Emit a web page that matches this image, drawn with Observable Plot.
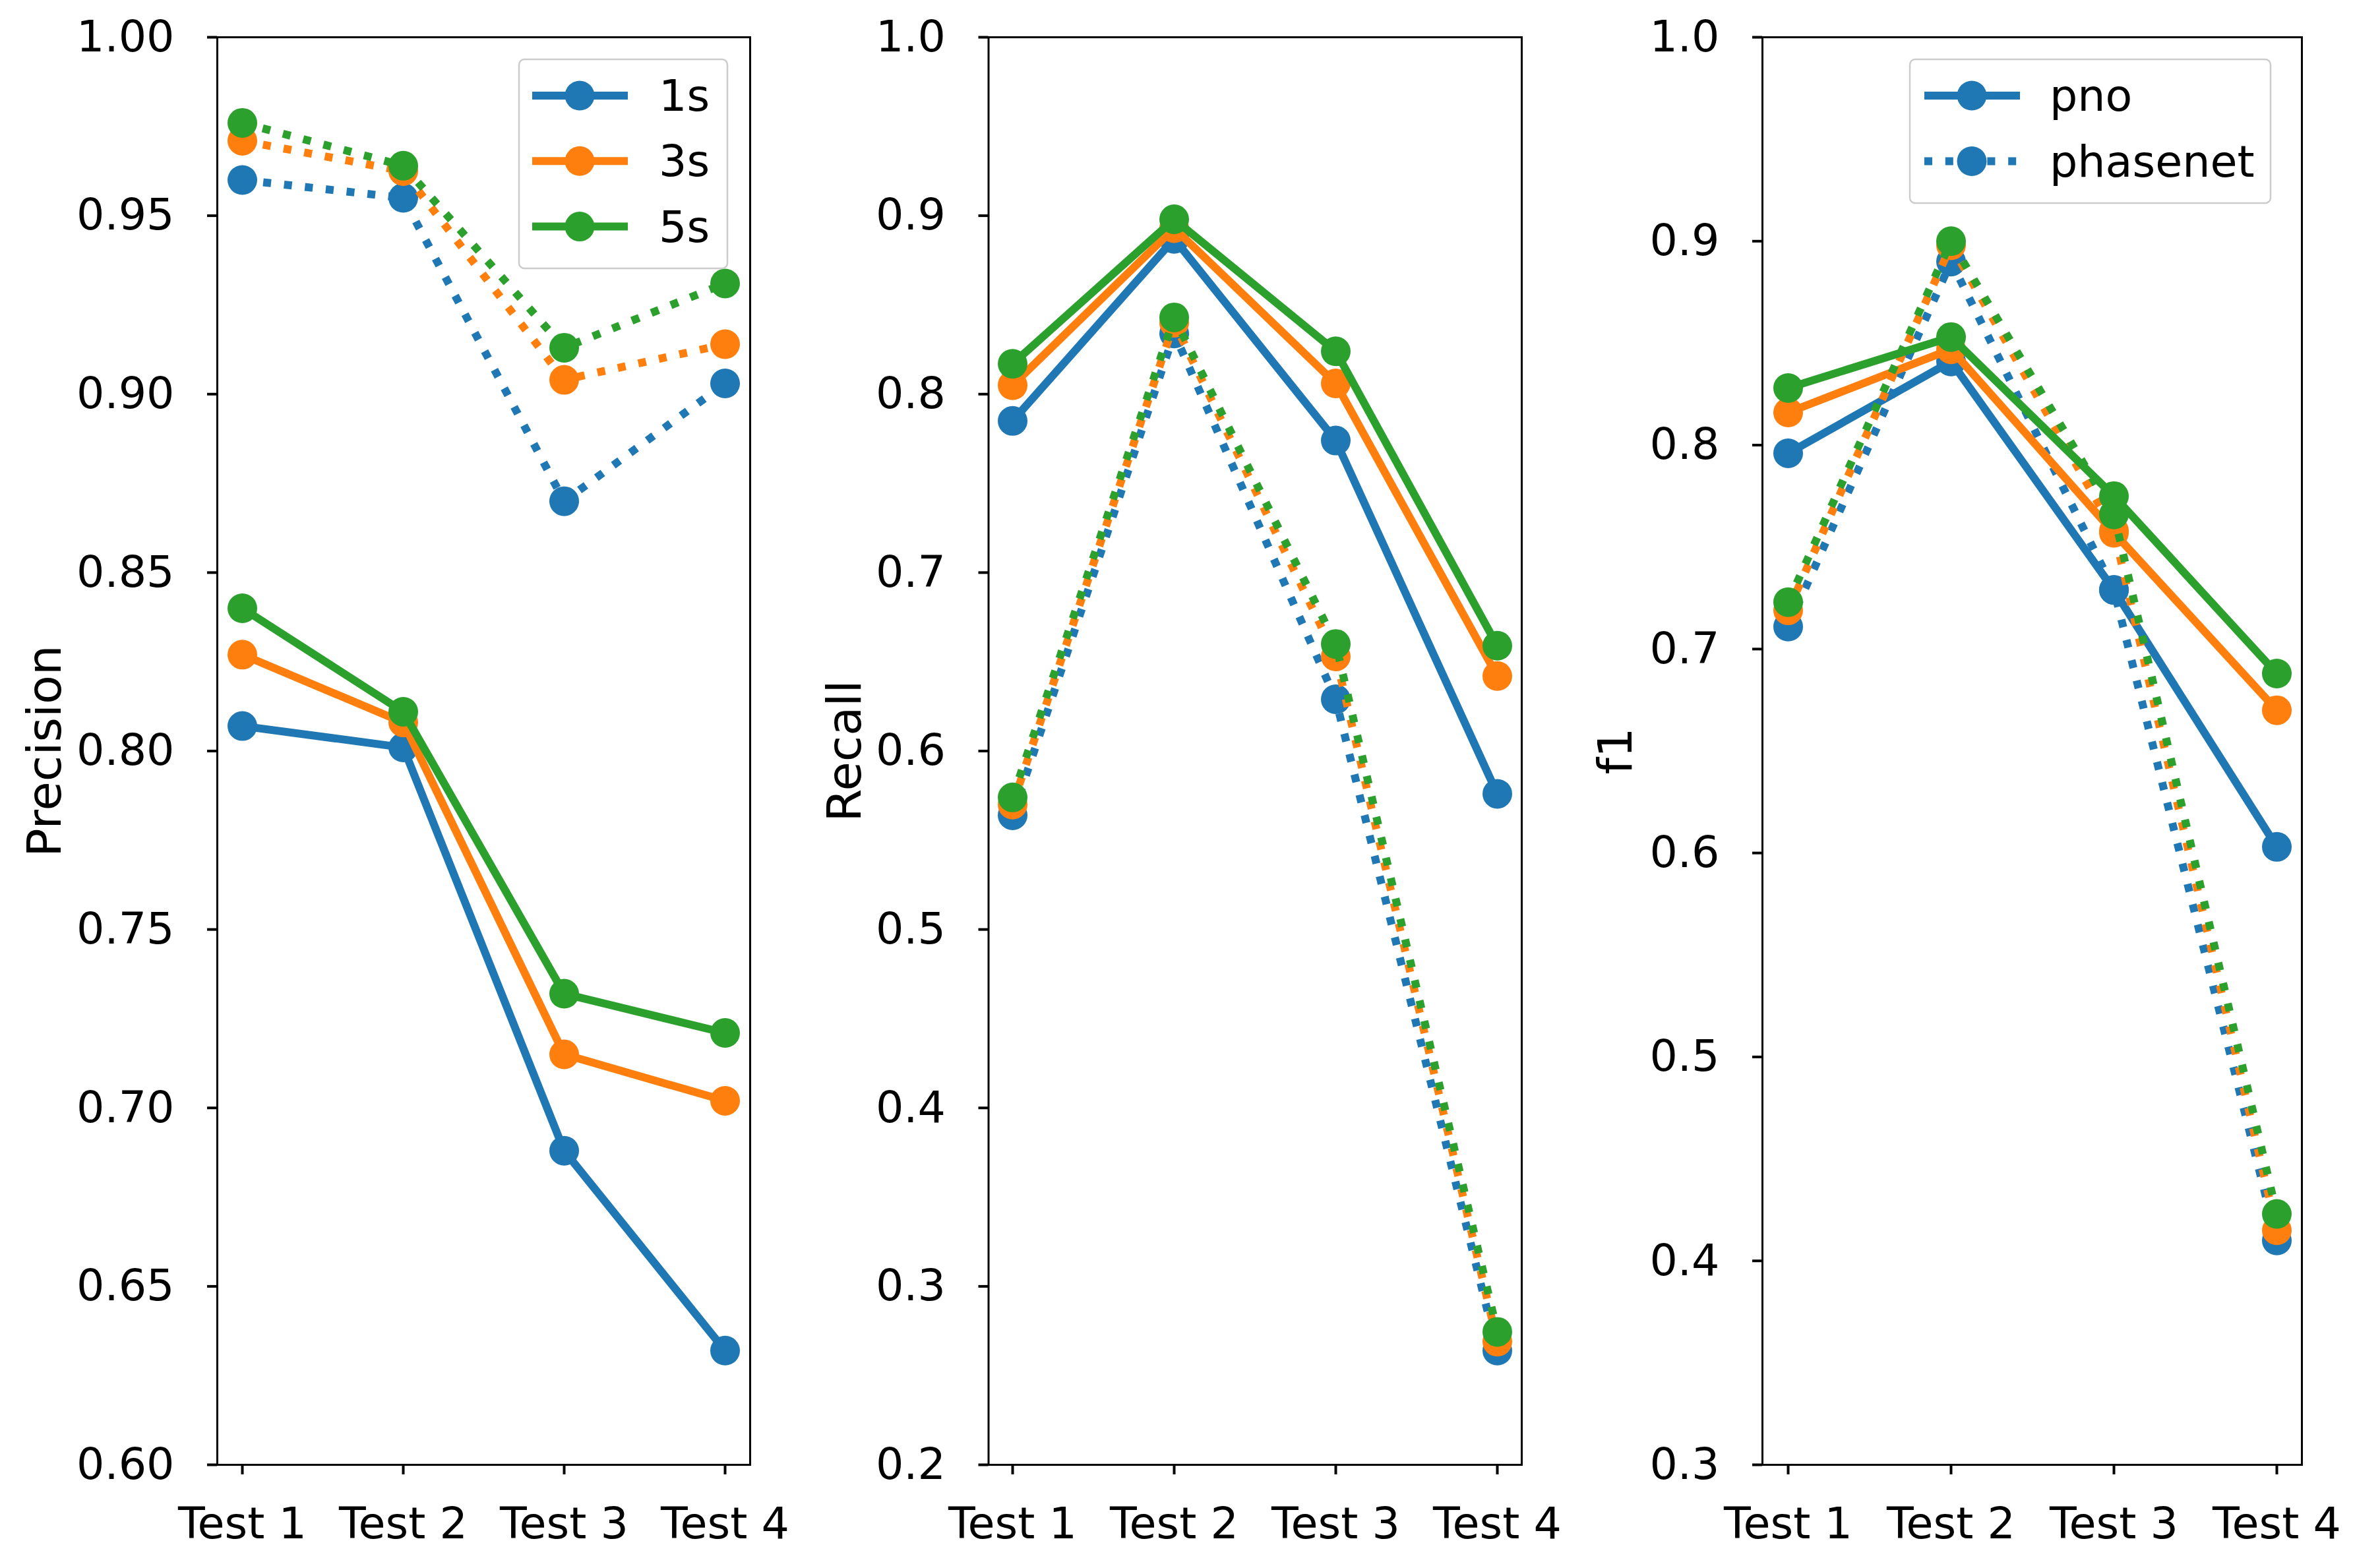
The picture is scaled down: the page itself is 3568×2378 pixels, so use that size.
<!DOCTYPE html>
<html><head><meta charset="utf-8">
<script src="https://cdn.jsdelivr.net/npm/d3@7"></script>
<script src="https://cdn.jsdelivr.net/npm/@observablehq/plot@0.6"></script>
<style>
html,body{margin:0;padding:0;background:#fff;}
#chart{position:relative;width:3568px;height:2378px;background:#fff;font-family:"DejaVu Sans",sans-serif;}
#chart svg{position:absolute;left:0;top:0;}
</style></head><body><div id="chart"></div>
<script>
// ---- data ----
const tests = ["Test 1", "Test 2", "Test 3", "Test 4"];
const windows = ["1s", "3s", "5s"];
const models = ["pno", "phasenet"];
const windowColors = ["#1f77b4", "#ff7f0e", "#2ca02c"];

const precisionPno1s = [0.807, 0.801, 0.688, 0.632];
const precisionPno3s = [0.827, 0.808, 0.715, 0.702];
const precisionPno5s = [0.840, 0.811, 0.732, 0.721];
const precisionPhasenet1s = [0.960, 0.955, 0.870, 0.903];
const precisionPhasenet3s = [0.971, 0.9625, 0.904, 0.914];
const precisionPhasenet5s = [0.976, 0.964, 0.913, 0.931];

const recallPno1s = [0.785, 0.887, 0.774, 0.576];
const recallPno3s = [0.805, 0.893, 0.806, 0.642];
const recallPno5s = [0.817, 0.898, 0.824, 0.659];
const recallPhasenet1s = [0.564, 0.834, 0.629, 0.264];
const recallPhasenet3s = [0.570, 0.840, 0.653, 0.269];
const recallPhasenet5s = [0.574, 0.843, 0.660, 0.2745];

const f1Pno1s = [0.796, 0.841, 0.729, 0.603];
const f1Pno3s = [0.816, 0.847, 0.757, 0.670];
const f1Pno5s = [0.828, 0.853, 0.775, 0.688];
const f1Phasenet1s = [0.711, 0.890, 0.729, 0.410];
const f1Phasenet3s = [0.719, 0.898, 0.758, 0.415];
const f1Phasenet5s = [0.723, 0.900, 0.766, 0.423];

const precisionTicks = [0.60, 0.65, 0.70, 0.75, 0.80, 0.85, 0.90, 0.95, 1.00];
const recallTicks = [0.2, 0.3, 0.4, 0.5, 0.6, 0.7, 0.8, 0.9, 1.0];
const f1Ticks = [0.3, 0.4, 0.5, 0.6, 0.7, 0.8, 0.9, 1.0];

const metricLabels = ["Precision", "Recall", "f1"];
const windowLegendLabels = ["1s", "3s", "5s"];
const modelLegendLabels = ["pno", "phasenet"];

// ---- build tables ----
const series = {
  Precision: {pno: [precisionPno1s, precisionPno3s, precisionPno5s], phasenet: [precisionPhasenet1s, precisionPhasenet3s, precisionPhasenet5s]},
  Recall: {pno: [recallPno1s, recallPno3s, recallPno5s], phasenet: [recallPhasenet1s, recallPhasenet3s, recallPhasenet5s]},
  f1: {pno: [f1Pno1s, f1Pno3s, f1Pno5s], phasenet: [f1Phasenet1s, f1Phasenet3s, f1Phasenet5s]}
};
function rowsFor(metric, model, wi) {
  return series[metric][model][wi].map((v, i) => ({test: tests[i], value: v, window: windows[wi], model}));
}

// ---- layout ----
const W = 3568, H = 2378;
const FS = 66.7;
const LABEL_FS = 72;
const LW = 12;
const DOT = "12,19.8";
const panels = [
  {metric: metricLabels[0], ticks: precisionTicks, fmt: ".2f", domain: [0.6, 1.0], left: 329, right: 1137, labelOff: 261},
  {metric: metricLabels[1], ticks: recallTicks, fmt: ".1f", domain: [0.2, 1.0], left: 1498.5, right: 2307, labelOff: 217.5},
  {metric: metricLabels[2], ticks: f1Ticks, fmt: ".1f", domain: [0.3, 1.0], left: 2672, right: 3490, labelOff: 222}
];

const chart = document.getElementById("chart");

for (const p of panels) {
  const marks = [];
  windows.forEach((w, wi) => {
    for (const m of models) {
      const rows = rowsFor(p.metric, m, wi);
      marks.push(Plot.line(rows, {
        x: "test", y: "value", stroke: "window", strokeWidth: LW,
        strokeDasharray: m === "phasenet" ? DOT : null,
        strokeLinecap: m === "phasenet" ? "butt" : "square",
        strokeLinejoin: "round"
      }));
      marks.push(Plot.dot(rows, {x: "test", y: "value", fill: "window", r: 22.5, stroke: null}));
    }
  });
  const svg = Plot.plot({
    width: W, height: H,
    marginLeft: p.left, marginRight: W - p.right, marginTop: 56, marginBottom: H - 2221,
    style: {background: "transparent", fontFamily: "DejaVu Sans", fontSize: FS + "px", overflow: "visible", maxWidth: "none", color: "black"},
    x: {type: "point", domain: tests, padding: 0.15},
    y: {domain: p.domain},
    color: {domain: windows, range: windowColors},
    marks: [
      Plot.axisX({tickSize: 15, tickPadding: 49, strokeWidth: 4, fontSize: FS, label: null, stroke: "black", fill: "black"}),
      Plot.axisY({ticks: p.ticks, tickFormat: d3.format(p.fmt), tickSize: 15, tickPadding: 50, strokeWidth: 4, fontSize: FS, label: null, stroke: "black", fill: "black"}),
      Plot.text([p.metric], {text: d => d, frameAnchor: "left", dx: -p.labelOff, rotate: -90, textAnchor: "middle", lineAnchor: "middle", fontSize: LABEL_FS, fill: "black"}),
      ...marks,
      Plot.frame({stroke: "black", strokeWidth: 3})
    ]
  });
  chart.appendChild(svg);
}

// ---- legends ----
function legend(box, items) {
  const svg = d3.create("svg").attr("width", W).attr("height", H).style("position", "absolute").style("left", 0).style("top", 0);
  svg.append("rect").attr("x", box.x).attr("y", box.y).attr("width", box.w).attr("height", box.h)
    .attr("rx", 8).attr("fill", "white").attr("fill-opacity", 0.8).attr("stroke", "#cccccc").attr("stroke-width", 2.5);
  items.forEach(it => {
    svg.append("line").attr("x1", box.lx1).attr("x2", box.lx2).attr("y1", it.y).attr("y2", it.y)
      .attr("stroke", it.color).attr("stroke-width", LW).attr("stroke-dasharray", it.dash || null);
    svg.append("circle").attr("cx", box.mx).attr("cy", it.y).attr("r", 22.5).attr("fill", it.color);
    svg.append("text").attr("x", box.tx).attr("y", it.y + 23).text(it.label)
      .attr("font-family", "DejaVu Sans").attr("font-size", FS).attr("fill", "black");
  });
  chart.appendChild(svg.node());
}
legend({x: 787, y: 90, w: 316, h: 317, lx1: 807, lx2: 952, mx: 879, tx: 999},
  windowLegendLabels.map((l, i) => ({label: l, color: windowColors[i], y: 145 + i * 99.3})));
legend({x: 2896, y: 90, w: 547, h: 218, lx1: 2918, lx2: 3063, mx: 2990, tx: 3108},
  modelLegendLabels.map((l, i) => ({label: l, color: windowColors[0], y: 145 + i * 99.5, dash: i === 1 ? DOT : null})));
</script></body></html>
